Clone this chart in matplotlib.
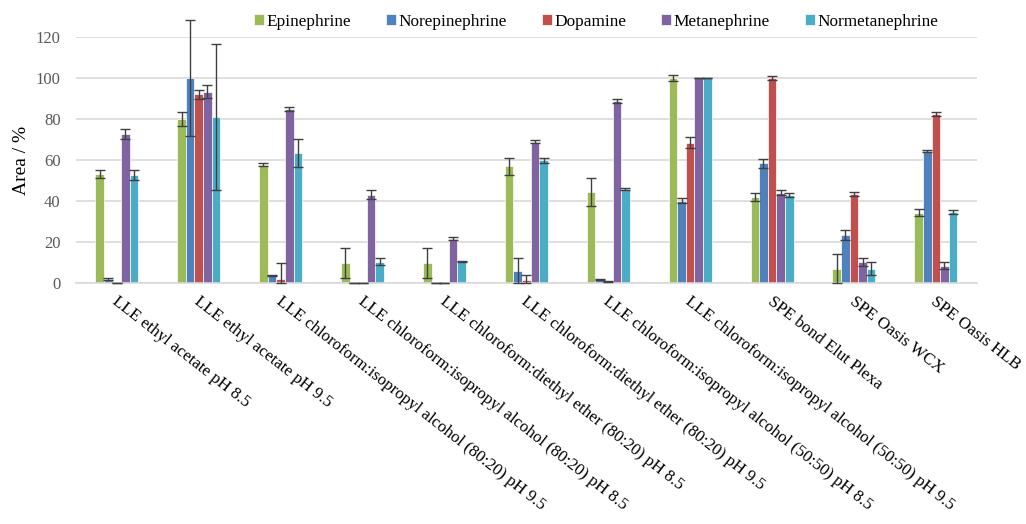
import numpy as np
import matplotlib.pyplot as plt
from matplotlib.transforms import ScaledTranslation

plt.rcParams['font.family'] = ['Liberation Serif', 'DejaVu Serif']

methods = [
    'LLE ethyl acetate pH 8.5',
    'LLE ethyl acetate pH 9.5',
    'LLE chloroform:isopropyl alcohol (80:20) pH 9.5',
    'LLE chloroform:isopropyl alcohol (80:20) pH 8.5',
    'LLE chloroform:diethyl ether (80:20) pH 8.5',
    'LLE chloroform:diethyl ether (80:20) pH 9.5',
    'LLE chloroform:isopropyl alcohol (50:50) pH 8.5',
    'LLE chloroform:isopropyl alcohol (50:50) pH 9.5',
    'SPE bond Elut Plexa',
    'SPE Oasis WCX',
    'SPE Oasis HLB',
]

compounds = ['Epinephrine', 'Norepinephrine', 'Dopamine', 'Metanephrine', 'Normetanephrine']

epinephrine = [53.2, 79.9, 57.7, 9.5, 9.5, 56.9, 44.2, 100.0, 41.8, 6.9, 34.2]
epinephrine_err = [2.1, 3.5, 0.7, 7.3, 7.3, 4.1, 6.9, 1.4, 2.0, 7.3, 1.8]

norepinephrine = [1.8, 100.0, 3.4, 0.0, 0.0, 5.7, 1.6, 40.0, 58.4, 23.2, 64.5]
norepinephrine_err = [0.3, 28.3, 0.3, 0.0, 0.0, 6.2, 0.3, 1.2, 2.2, 2.5, 0.6]

dopamine = [0.0, 92.0, 1.7, 0.0, 0.0, 1.2, 0.5, 68.5, 100.0, 43.2, 82.5]
dopamine_err = [0.0, 2.0, 8.0, 0.0, 0.0, 2.7, 0.2, 2.5, 1.0, 1.0, 1.1]

metanephrine = [72.7, 93.4, 84.9, 43.0, 21.5, 69.0, 88.8, 100.0, 44.0, 10.1, 8.3]
metanephrine_err = [2.3, 3.3, 0.8, 2.1, 0.7, 0.7, 0.9, 0.0, 1.1, 1.8, 1.6]

normetanephrine = [52.7, 81.0, 63.3, 10.3, 10.3, 59.8, 45.8, 100.0, 42.9, 6.9, 34.6]
normetanephrine_err = [2.6, 35.5, 6.7, 1.6, 0.3, 1.1, 0.6, 0.0, 0.9, 3.3, 1.1]

series = [epinephrine, norepinephrine, dopamine, metanephrine, normetanephrine]
errors = [epinephrine_err, norepinephrine_err, dopamine_err, metanephrine_err, normetanephrine_err]
colors = ['#9BBB59', '#4F81BD', '#C0504D', '#8064A2', '#4BACC6']

fig = plt.figure(figsize=(10.26, 5.24), dpi=100)
ax = fig.add_axes([0.074, 0.4605, 0.878, 0.4685])

x = np.arange(len(methods))
w = 0.105
for i, (vals, err, c, name) in enumerate(zip(series, errors, colors, compounds)):
    pos = x + (i - 2) * w
    vals = np.array(vals)
    err = np.array(err)
    # lower whisker stops at the axis, upper one may go past 120
    yerr = [np.minimum(err, vals), err]
    ax.bar(pos, vals, w, color=c, edgecolor='white', linewidth=0.5, label=name, zorder=2)
    eb = ax.errorbar(pos, vals, yerr=yerr, fmt='none', ecolor='#404040', elinewidth=1,
                     capsize=3.6, capthick=1, zorder=3)
    for art in eb.lines[1] + eb.lines[2]:
        art.set_clip_on(False)

ax.set_xlim(-0.5, len(methods) - 0.5)
ax.set_ylim(0, 120)
ax.set_yticks(range(0, 121, 20))
ax.yaxis.grid(True, color='#D9D9D9', linewidth=1.2)
ax.set_axisbelow(True)
for s in ['top', 'right', 'left']:
    ax.spines[s].set_visible(False)
ax.spines['bottom'].set_color('#D9D9D9')
ax.spines['bottom'].set_linewidth(1.2)
ax.tick_params(axis='y', length=0, labelsize=12, labelcolor='#595959', pad=11)
ax.tick_params(axis='x', length=0)

ax.set_xticks(x)
ax.set_xticklabels(methods, rotation=-38, ha='left', va='top',
                   rotation_mode='anchor', fontsize=12.2)
# nudge the rotated category labels so they start just under each group
shift = ScaledTranslation(2 / 100, -6 / 100, fig.dpi_scale_trans)
for lab in ax.get_xticklabels():
    lab.set_transform(lab.get_transform() + shift)

ax.set_ylabel('Area / %', fontsize=14, labelpad=4.5)

ax.legend(loc='center', bbox_to_anchor=(0.581, 0.958), bbox_transform=fig.transFigure,
          ncol=5, frameon=False, fontsize=12.4, handlelength=0.6, handleheight=0.6,
          handletextpad=0.15, columnspacing=2.0)

fig.savefig('out.png', dpi=100)
